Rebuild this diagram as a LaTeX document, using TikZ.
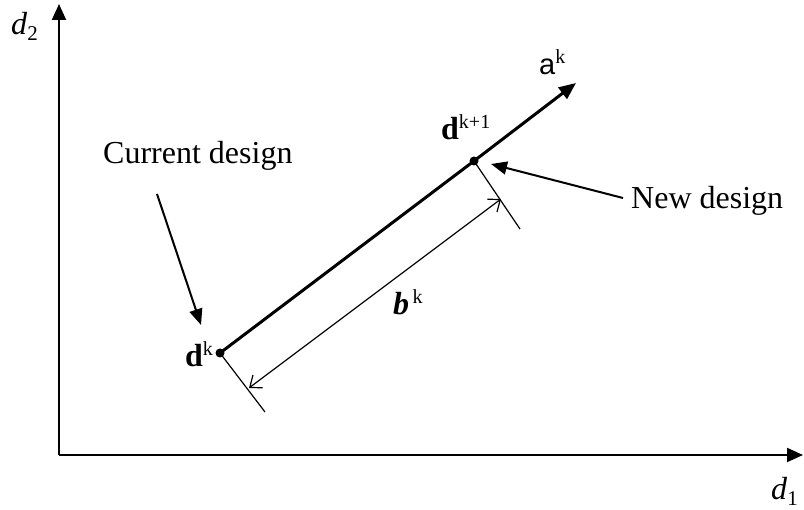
\documentclass[tikz,border=0pt]{standalone}
\usepackage{fontspec}
\setmainfont{Liberation Serif}
\newfontfamily\arialfont{Liberation Sans}
\usetikzlibrary{arrows.meta}
\newcommand{\supk}[1]{\raisebox{11pt}{\fontsize{20}{22}\selectfont #1}}
\newcommand{\subidx}[1]{\raisebox{-6pt}{\fontsize{21}{23}\selectfont #1}}
\begin{document}
\begin{tikzpicture}[x=1pt,y=-1pt,
  axis/.style={line width=2pt,-{Triangle[length=16pt,width=14pt]}},
  thickline/.style={line width=3pt},
  thinline/.style={line width=1.2pt},
  pointer/.style={line width=2pt,-{Triangle[length=16pt,width=13pt]}},
  dim/.style={line width=1.2pt,{Straight Barb[length=10pt,width=16pt]}-{Straight Barb[length=10pt,width=16pt]}},
  lbl/.style={font=\fontsize{32}{36}\selectfont, inner sep=0pt, anchor=base west},
  dot/.style={circle,fill=black,inner sep=0pt,minimum size=9pt}]
\useasboundingbox (0,0) rectangle (804,510);
\coordinate (O) at (59,455);
\coordinate (Ytop) at (59,4);
\coordinate (Xend) at (803,455);
\draw[axis] (O) -- (Ytop);
\draw[axis] (O) -- (Xend);
\node[lbl] (d2) at (11,35) {\textit{d}\subidx{2}};
\node[lbl] (d1) at (771,500) {\textit{d}\subidx{1}};
\node[dot] (dk) at (220,353) {};
\node[dot] (dk1) at (474,161) {};
\coordinate (atip) at (576,83);
\draw[thickline] (dk.center) -- (dk1.center);
\draw[thickline,-{Triangle[length=17pt,width=14pt]}] (dk1.center) -- (atip);
\coordinate (p1) at (265,412);
\coordinate (p2) at (520,229);
\draw[thinline] (dk.center) -- (p1);
\draw[thinline] (dk1.center) -- (p2);
\coordinate (b1) at (249,388);
\coordinate (b2) at (501,199);
\draw[dim] (b1) -- (b2);
\node[lbl] (ak) at (539,75) {\fontsize{29}{32}\selectfont\arialfont a\supk{\rmfamily k}};
\node[lbl] (dkl) at (185,367) {\textbf{d}\supk{k}};
\node[lbl] (dk1l) at (441,140) {\textbf{d}\supk{k+1}};
\node[lbl] (bk) at (393,315) {\textbf{\textit{b}}\supk{\,k}};
\node[lbl] (cur) at (103,164) {Current design};
\node[lbl] (new) at (631,209) {New design};
\coordinate (c1) at (157,194);
\coordinate (c2) at (201,325);
\draw[pointer] (c1) -- (c2);
\coordinate (n1) at (623,198);
\coordinate (n2) at (491,164);
\draw[pointer] (n1) -- (n2);
\end{tikzpicture}
\end{document}
